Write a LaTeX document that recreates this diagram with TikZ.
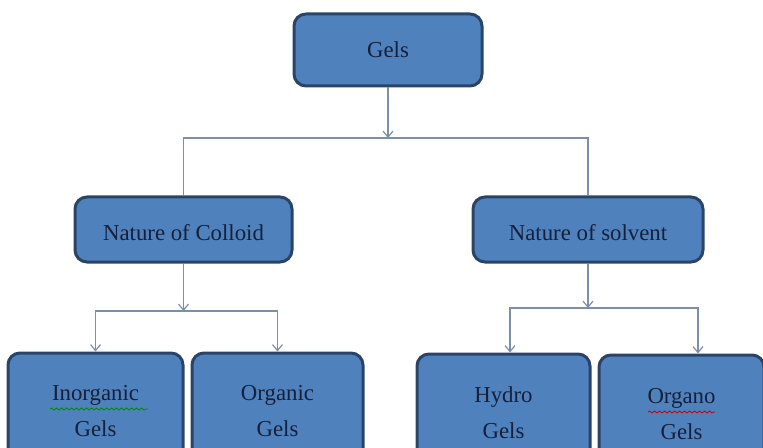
\documentclass[tikz,border=0pt]{standalone}
\usepackage{fontspec}
\setmainfont{Liberation Serif}
\usetikzlibrary{arrows.meta, positioning, decorations.pathmorphing}

\definecolor{boxblue}{HTML}{4F81BD}
\definecolor{boxedge}{HTML}{2A4468}
\definecolor{linkgray}{HTML}{7D8FA8}
\definecolor{inkblue}{HTML}{16203A}

\tikzset{
  gelbox/.style={draw=boxedge, line width=1.5pt, fill=boxblue, rounded corners=6pt,
    text=inkblue, font=\fontsize{11.4}{18}\selectfont, align=center, inner sep=0pt},
  link/.style={draw=linkgray, line width=0.6pt},
  squiggle/.style={decorate, decoration={snake, amplitude=0.5pt, segment length=2.5pt},
    line width=0.4pt}
}

\begin{document}
\begin{tikzpicture}[x=0.5pt, y=-0.5pt, >={Straight Barb[length=3pt, width=5pt]}]
    % Canvas
    \clip (0,0) rectangle (763,448);
    \useasboundingbox (0,0) rectangle (763,448);

    % Root
    \node[gelbox, minimum width=94pt, minimum height=36pt] (gels) at (388,50) {Gels};

    % Second level
    \node[gelbox, minimum width=108.5pt, minimum height=32.5pt, text height=10.7pt, text depth=0pt] (colloid) at (183.5,229.5) {Nature of Colloid};
    \node[gelbox, minimum width=115pt, minimum height=32.5pt, text height=10.7pt, text depth=0pt] (solvent) at (588,229.5) {Nature of solvent};

    % Third level (lower edges run off the page)
    \node[gelbox, minimum width=87.5pt, minimum height=58pt] (inorganic) at (95.5,411) {Inorganic\\Gels};
    \node[gelbox, minimum width=85.5pt, minimum height=58pt] (organic) at (277.5,411) {Organic\\Gels};
    \node[gelbox, minimum width=86.5pt, minimum height=59pt] (hydro) at (503.5,413) {Hydro\\Gels};
    \node[gelbox, minimum width=82.5pt, minimum height=59pt] (organo) at (681.5,414) {Organo\\Gels};

    % Spell-check marks
    \draw[squiggle, green!55!black] (50,409) -- (148,409);
    \draw[squiggle, red!80!black] (648,412) -- (715,412);

    % Root to second level
    \coordinate (topbus) at (gels.south |- 0,138);
    \draw[link, ->] (gels.south) -- (topbus);
    \draw[link] (colloid.north) |- (topbus) -| (solvent.north);

    % Colloid branch
    \coordinate (leftbus) at (colloid.south |- 0,311);
    \draw[link, ->] (colloid.south) -- (leftbus);
    \draw[link, ->] (leftbus) -| (inorganic.north);
    \draw[link, ->] (leftbus) -| (organic.north);

    % Solvent branch
    \coordinate (rightbus) at (solvent.south |- 0,308);
    \draw[link, ->] (solvent.south) -- (rightbus);
    \draw[link, ->] (rightbus) -| ([xshift=3.25pt]hydro.north);
    \draw[link, ->] (rightbus) -| ([xshift=8.25pt]organo.north);
\end{tikzpicture}
\end{document}
